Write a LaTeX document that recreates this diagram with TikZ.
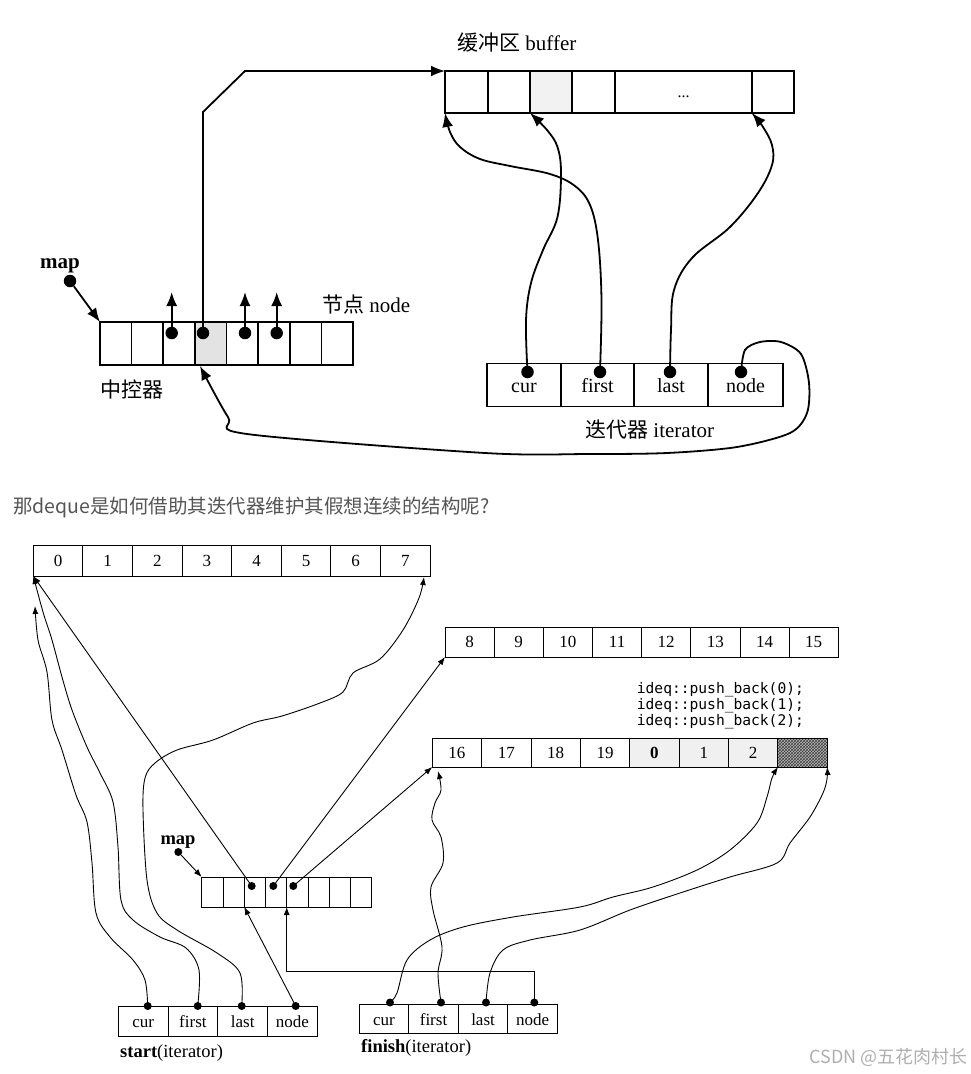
\documentclass[tikz,border=0pt]{standalone}
\usepackage{fontspec}
\setmainfont{Liberation Serif}
\newfontfamily\cjk{Noto Sans CJK SC}
\newfontfamily\codefont{DejaVu Sans Mono}
\usetikzlibrary{arrows.meta,patterns}
\definecolor{capgray}{RGB}{85,85,85}
\definecolor{wmgray}{RGB}{175,175,175}
\begin{document}
\begin{tikzpicture}[x=1pt,y=-1pt,
  cellT/.style={draw, line width=1.6pt, inner sep=0pt, outer sep=0pt},
  cellB/.style={draw, line width=0.9pt, inner sep=0pt, outer sep=0pt, font=\fontsize{17}{19}\selectfont, text height=11.5pt, text depth=0pt},
  txtT/.style={font=\fontsize{20}{22}\selectfont, inner sep=0pt, anchor=base},
  txtB/.style={font=\fontsize{17}{19}\selectfont, inner sep=0pt, anchor=base},
  linkT/.style={line width=1.8pt, -{Latex[length=14pt,width=11pt]}},
  linkB/.style={line width=0.9pt, -{Latex[length=8pt,width=6pt]}},
  dotT/.style={circle, fill, inner sep=0pt, minimum size=12.5pt},
  dotB/.style={circle, fill, inner sep=0pt, minimum size=8pt},
  lblT/.style={font=\fontsize{21}{24}\selectfont, inner sep=0pt},
  lblB/.style={font=\fontsize{18.5}{21}\selectfont, inner sep=0pt},
  code/.style={font=\codefont\fontsize{14.6}{16}\selectfont, inner sep=0pt, anchor=west},
]
\useasboundingbox (0,0) rectangle (970,1074);
\fill[white] (0,0) rectangle (970,1074);

% ================= TOP DIAGRAM =================
% buffer
\fill[gray!10] (530,71) rectangle (572,113);
\foreach \n/\a/\b in {1/445/488,2/488/530,3/530/572,4/572/615,5/615/752,6/752/794}
  \node[cellT, minimum width={\b-\a}, minimum height=42] (tb\n) at ({(\a+\b)/2},92) {};
\node[font=\fontsize{16}{18}\selectfont, inner sep=0pt, anchor=base] (tdots) at (683.5,97) {...};
\node[lblT, anchor=west] (tbuflbl) at (457,43) {{\cjk 缓冲区} buffer};

% map (central controller)
\fill[gray!22] (195,322) rectangle (226.6,365);
\foreach \i in {1,...,8}
  \node[cellT, minimum width=31.625, minimum height=43] (tm\i) at ({100+(\i-0.5)*31.625},343.5) {};
\node[lblT, anchor=west] (tnodelbl) at (322,305) {{\cjk 节点} node};
\node[lblT, anchor=west] (tctrl) at (100,390) {\cjk 中控器};
\node[font=\bfseries\fontsize{21}{24}\selectfont, inner sep=0pt] (tmaplbl) at (60,266) {map};
\node[dotT] (tmapdot) at (70,281) {};
\draw[linkT] (tmapdot) -- (tm1.north west);

% node pointers
\node[dotT] (td3) at (171.7,333) {};
\node[dotT] (td4) at (203,333) {};
\node[dotT] (td5) at (245,333) {};
\node[dotT] (td6) at (276.7,333) {};
\coordinate (tu3) at (171.7,292);
\coordinate (tu5) at (245,292);
\coordinate (tu6) at (276.7,292);
\draw[linkT] (td3.center) -- (tu3);
\draw[linkT] (td5.center) -- (tu5);
\draw[linkT] (td6.center) -- (tu6);
\coordinate (tk1) at (203,112);
\coordinate (tk2) at (245,71);
\draw[linkT] (td4.center) -- (tk1) -- (tk2) -- (tb1.north west);

% iterator
\foreach \n/\a/\b in {1/487/561,2/561/634,3/634/708,4/708/783}
  \node[cellT, minimum width={\b-\a}, minimum height=43] (ti\n) at ({(\a+\b)/2},385) {};
\foreach \n/\t in {1/cur,2/first,3/last,4/node}
  \node[txtT] (tt\n) at ([yshift=-7pt]ti\n.center) {\t};
\node[lblT, anchor=west] (titerlbl) at (585,430) {{\cjk 迭代器} iterator};
\node[dotT] (tc1) at (527.5,372) {};
\node[dotT] (tc2) at (600,372) {};
\node[dotT] (tc3) at (670,372) {};
\node[dotT] (tc4) at (741,372) {};
\coordinate (ttipnode) at (200,366);

\draw[linkT] plot[smooth, tension=0.6] coordinates {(tc1.center) (526,320) (531,283) (543,250) (557.5,217) (561,173) (557.5,147) (547,130) (tb3.south west)};
\draw[linkT] plot[smooth, tension=0.6] coordinates {(tc2.center) (601.5,300) (598,240) (590,205) (575,186) (550,174) (510,166) (480,159) (460,147) (450,132) (tb1.south west)};
\draw[linkT] plot[smooth, tension=0.6] coordinates {(tc3.center) (671,330) (674,290) (692,258) (730,227) (758,193) (772,165) (772,145) (763,127) (tb6.south west)};
\draw[linkT] plot[smooth, tension=0.5] coordinates {(tc4.center) (745,350) (760,342) (781,342) (801,354) (809,383) (807,413) (790,433) (737,447) (667,453) (589,454) (485,453) (247,434) (228,417) (ttipnode)};

% ================= CAPTION =================
\node[font=\cjk\fontsize{19.5}{22}\selectfont, text=capgray, anchor=west, inner sep=0pt] (caption) at (13,507) {那deque是如何借助其迭代器维护其假想连续的结构呢?};

% ================= BOTTOM DIAGRAM =================
% buffer 0..7
\foreach \i in {1,...,8}
  \node[cellB, minimum width=49.6, minimum height=31] (bb\i) at ({33.3+(\i-0.5)*49.6},560.5) {\the\numexpr\i-1\relax};
% buffer 8..15
\foreach \i in {1,...,8}
  \node[cellB, minimum width=49.16, minimum height=30] (bc\i) at ({445+(\i-0.5)*49.16},642) {\the\numexpr\i+7\relax};
% buffer 16..19,0,1,2,(free)
\fill[gray!12] (630,738) rectangle (777.7,767);
\fill[gray!55] (777.7,738) rectangle (827.3,767);
\fill[pattern=crosshatch, pattern color=black!75] (777.7,738) rectangle (827.3,767);
\foreach \i/\t in {1/16,2/17,3/18,4/19,5/\textbf{0},6/1,7/2,8/{}}
  \node[cellB, minimum width=49.375, minimum height=29] (bd\i) at ({432.3+(\i-0.5)*49.375},752.5) {\t};
\node[code] (code1) at (636.7,690) {ideq::push\_back(0);};
\node[code] (code2) at (636.7,706) {ideq::push\_back(1);};
\node[code] (code3) at (636.7,722) {ideq::push\_back(2);};

% map
\foreach \i in {1,...,8}
  \node[cellB, minimum width=21.25, minimum height=30] (bm\i) at ({201.7+(\i-0.5)*21.25},892) {};
\node[font=\bfseries\fontsize{18.5}{21}\selectfont, inner sep=0pt] (bmaplbl) at (178,842) {map};
\node[dotB] (bmapdot) at (178.3,852) {};
\draw[linkB] (bmapdot) -- (bm1.north west);
\node[dotB] (bmd3) at (251.7,886) {};
\node[dotB] (bmd4) at (273.3,886) {};
\node[dotB] (bmd5) at (293.3,886) {};
\draw[linkB] (bmd3.center) -- (bb1.south west);
\draw[linkB] (bmd4.center) -- (bc1.south west);
\draw[linkB] (bmd5.center) -- (bd1.south west);

% start iterator
\foreach \n in {1,...,4}
  \node[cellB, minimum width=49.75, minimum height=29.3] (si\n) at ({118.3+(\n-0.5)*49.75},1021.3) {};
\foreach \n/\t in {1/cur,2/first,3/last,4/node}
  \node[txtB] (st\n) at ([yshift=-6.5pt]si\n.center) {\t};
\node[lblB, anchor=west] (startlbl) at (120,1053) {\textbf{start}(iterator)};
\node[dotB] (s1d) at (147.7,1006) {};
\node[dotB] (s2d) at (197.7,1006) {};
\node[dotB] (s3d) at (241.7,1006) {};
\node[dotB] (s4d) at (295.7,1006) {};

% finish iterator
\foreach \n in {1,...,4}
  \node[cellB, minimum width=49.5, minimum height=29] (fi\n) at ({359.3+(\n-0.5)*49.5},1018.5) {};
\foreach \n/\t in {1/cur,2/first,3/last,4/node}
  \node[txtB] (ft\n) at ([yshift=-6.5pt]fi\n.center) {\t};
\node[lblB, anchor=west] (finishlbl) at (361,1048) {\textbf{finish}(iterator)};
\node[dotB] (f1d) at (390,1002.5) {};
\node[dotB] (f2d) at (441,1002.5) {};
\node[dotB] (f3d) at (486,1002.5) {};
\node[dotB] (f4d) at (534.3,1002.5) {};

% start connectors
\coordinate (sctip) at (35,606);
\coordinate (sltip) at (424,577);
\draw[linkB] plot[smooth, tension=0.55] coordinates {(s1d.center) (145,980) (133,960) (110,937) (96,913) (92,863) (87,822) (76,795) (62,750) (52,720) (47,672) (38,640) (sctip)};
\draw[linkB] plot[smooth, tension=0.55] coordinates {(s2d.center) (199,970) (186,948) (160,937) (133,920) (121,900) (118,847) (113,802) (100,773) (87,747) (72,710) (62,677) (52,640) (43,612) (bb1.south west)};
\draw[linkB] plot[smooth, tension=0.55] coordinates {(s3d.center) (240,973) (217,953) (177,930) (157,913) (147,880) (143,810) (145,778) (155,763) (177,750) (213,740) (253,723) (282,716) (320,703) (343,692) (353,673) (380,659) (403,630) (419,598) (sltip)};
\draw[linkB] (s4d.center) -- (bm3.south west);

% finish connectors
\coordinate (fk) at (534.3,971);
\coordinate (fftip) at (438,771);
\draw[linkB] (f4d.center) -- (fk) -| (bm5.south west);
\draw[linkB] plot[smooth, tension=0.55] coordinates {(f1d.center) (397,993) (407,960) (430,940) (463,927) (513,917) (580,907) (613,897) (653,887) (697,870) (730,850) (757,823) (767,797) (772,778) (bd8.south west)};
\draw[linkB] plot[smooth, tension=0.55] coordinates {(f2d.center) (438,973) (442,947) (433,910) (431,887) (443,863) (441,837) (432,820) (435,803) (441,790) (fftip)};
\draw[linkB] plot[smooth, tension=0.55] coordinates {(f3d.center) (490,973) (503,950) (530,940) (580,930) (630,910) (680,893) (730,877) (777,863) (790,843) (810,817) (823,793) (827,779) (bd8.south east)};

% watermark
\node[font=\cjk\fontsize{18}{20}\selectfont, text=wmgray, anchor=east, inner sep=0pt] (wm) at (968,1057) {CSDN @五花肉村长};
\end{tikzpicture}
\end{document}
